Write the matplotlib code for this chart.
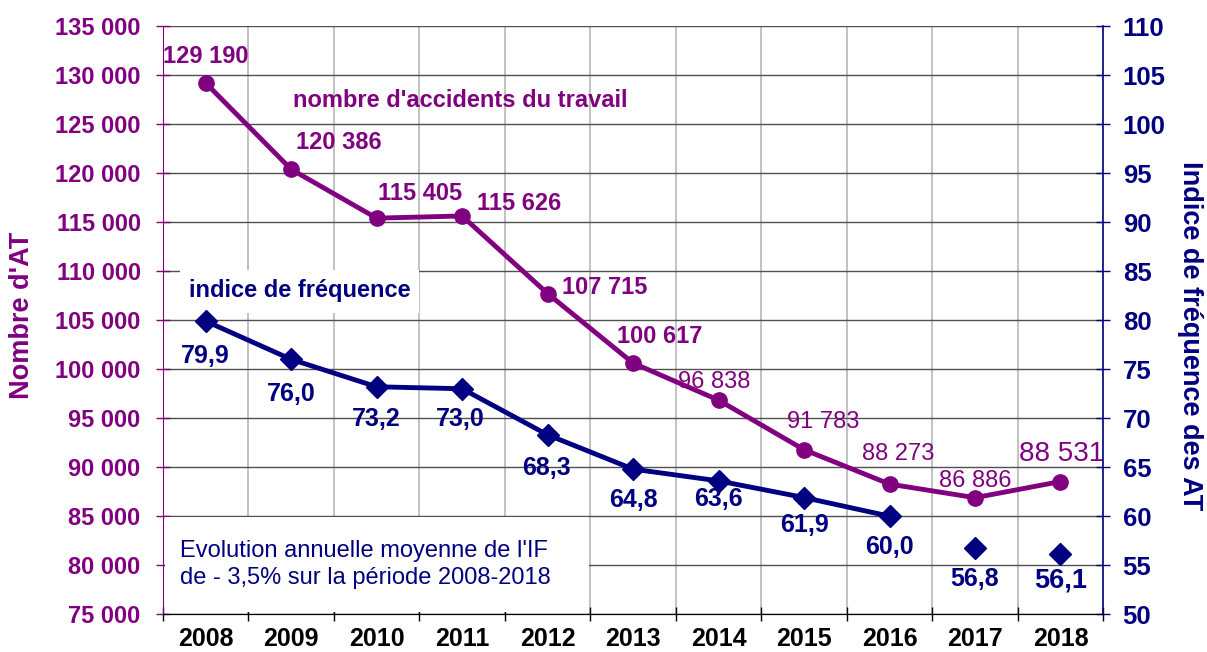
import matplotlib.pyplot as plt
from matplotlib.patches import Rectangle
import numpy as np

years = ["2008", "2009", "2010", "2011", "2012", "2013", "2014", "2015", "2016", "2017", "2018"]
accidents = [129190, 120386, 115405, 115626, 107715, 100617, 96838, 91783, 88273, 86886, 88531]
indice = [79.9, 76.0, 73.2, 73.0, 68.3, 64.8, 63.6, 61.9, 60.0, 56.8, 56.1]

acc_labels = ["129 190", "120 386", "115 405", "115 626", "107 715", "100 617",
              "96 838", "91 783", "88 273", "86 886", "88 531"]
if_labels = ["79,9", "76,0", "73,2", "73,0", "68,3", "64,8", "63,6", "61,9", "60,0", "56,8", "56,1"]

PURPLE = "#800080"
NAVY = "#000080"
plt.rcParams['font.family'] = ['Liberation Sans', 'DejaVu Sans']

fig = plt.figure(figsize=(12.07, 6.52), dpi=100)
ax = fig.add_axes([0.135, 0.058, 0.779, 0.902])
ax2 = ax.twinx()

x = np.arange(len(years))

# left axis: number of accidents
ax.set_xlim(-0.5, len(years) - 0.5)
ax.set_ylim(75000, 135000)
ax.set_yticks(np.arange(75000, 135001, 5000))
ax.set_yticklabels([f"{v // 1000} 000" for v in range(75000, 135001, 5000)],
                   color=PURPLE, fontsize=17, fontweight='bold')
ax.set_xticks(x)
ax.set_xticklabels(years, fontsize=18, fontweight='bold')
ax.set_xticks(np.arange(-0.5, len(years)), minor=True)
ax.tick_params(axis='x', which='major', length=0, pad=9)
ax.tick_params(axis='x', which='minor', length=10, direction='inout', width=1)
ax.tick_params(axis='y', length=10, direction='inout', color=PURPLE, width=1, pad=11)
ax.grid(axis='y', color='#505050', linewidth=1)
ax.grid(axis='x', which='minor', color='#b8b8b8', linewidth=1.2)
ax.set_axisbelow(True)
ax.spines['left'].set_color(PURPLE)
ax.spines['top'].set_visible(False)
ax.spines['right'].set_visible(False)
ax.set_ylabel("Nombre d'AT", color=PURPLE, fontsize=19.5, fontweight='bold', va='center')
ax.yaxis.set_label_coords(-0.150, 0.508)

# white boxes behind the two captions (hide the grid)
ax.add_patch(Rectangle((0.018, 0.512), 0.254, 0.074, transform=ax.transAxes,
                       facecolor='white', edgecolor='none', zorder=1))
ax.add_patch(Rectangle((0.002, 0.004), 0.451, 0.161, transform=ax.transAxes,
                       facecolor='white', edgecolor='none', zorder=1))

ax.plot(x, accidents, color=PURPLE, linewidth=3.5, marker='o', markersize=11, zorder=3)

# right axis: frequency index
ax2.set_ylim(50, 110)
ax2.set_yticks(np.arange(50, 111, 5))
ax2.tick_params(axis='y', length=10, direction='inout', color=NAVY, width=1,
                labelcolor=NAVY, labelsize=18.5, pad=9)
for t in ax2.get_yticklabels():
    t.set_fontweight('bold')
ax2.spines['right'].set_color(NAVY)
ax2.spines['right'].set_linewidth(1.2)
ax2.spines['top'].set_visible(False)
ax2.spines['left'].set_visible(False)
ax2.set_ylabel("Indice de fréquence des AT", color=NAVY, fontsize=19.5, fontweight='bold',
               rotation=270, va='center')
ax2.yaxis.set_label_coords(1.0926, 0.473)

ax2.plot(x[:9], indice[:9], color=NAVY, linewidth=3.5, marker='D', markersize=11, zorder=3)
ax2.plot(x[9:], indice[9:], linestyle='none', color=NAVY, marker='D', markersize=11, zorder=3)

# data labels (offsets in points)
acc_off = [(0, 19), (34, 19), (31, 18), (41, 9), (41, 4), (19, 19), (-3, 13),
           (14, 20), (6, 22), (0, 12), (1, 20)]
acc_weight = ['bold'] * 6 + ['normal'] * 5
acc_size = [17] * 10 + [20]
for i in range(len(years)):
    ax.annotate(acc_labels[i], (x[i], accidents[i]), textcoords='offset points',
                xytext=acc_off[i], ha='center', va='center', color=PURPLE,
                fontsize=acc_size[i], fontweight=acc_weight[i], zorder=5)

if_off = [(0, -25), (0, -25), (0, -23), (-1, -22), (-1, -24), (0, -22), (0, -13),
          (0, -20), (0, -22), (0, -23), (0, -19)]
if_size = [18] * 10 + [19.5]
for i in range(len(years)):
    ax2.annotate(if_labels[i], (x[i], indice[i]), textcoords='offset points',
                 xytext=if_off[i], ha='center', va='center', color=NAVY,
                 fontsize=if_size[i], fontweight='bold', zorder=5)

ax2.text(2.976, 127450, "nombre d'accidents du travail", transform=ax.transData,
         ha='center', va='center', color=PURPLE, fontsize=17, fontweight='bold')
ax2.text(1.103, 108060, "indice de fréquence", transform=ax.transData,
         ha='center', va='center', color=NAVY, fontsize=17, fontweight='bold')
ax2.text(-0.30, 80100, "Evolution annuelle moyenne de l'IF\nde - 3,5% sur la période 2008-2018",
         transform=ax.transData, ha='left', va='center', color=NAVY, fontsize=17,
         linespacing=1.3)

fig.savefig("out.png", dpi=100)
